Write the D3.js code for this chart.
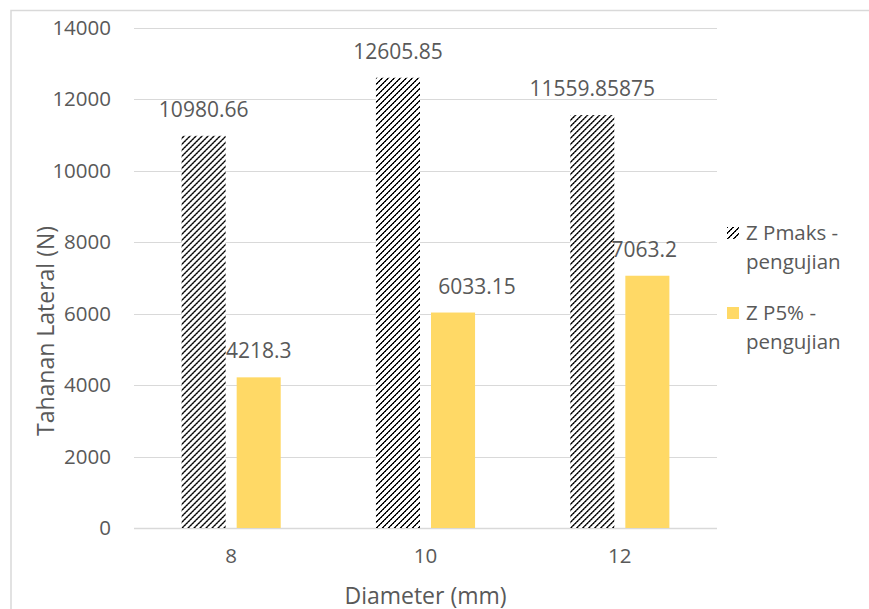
<!DOCTYPE html>
<html><head><meta charset="utf-8">
<script src="https://cdn.jsdelivr.net/npm/d3@7/dist/d3.min.js"></script>
<style>body{margin:0;background:#fff}svg{display:block}text{font-family:"Open Sans",sans-serif;fill:#595959}</style>
</head><body>
<svg id="c" width="869" height="609"></svg>
<script>
const categories = ["8", "10", "12"];
const seriesNames = ["Z Pmaks - pengujian", "Z P5% - pengujian"];
const pmaks = [10980.66, 12605.85, 11559.85875];
const p5 = [4218.3, 6033.15, 7063.2];
const labelsPmaks = ["10980.66", "12605.85", "11559.85875"];
const labelsP5 = ["4218.3", "6033.15", "7063.2"];
const yTicks = [0, 2000, 4000, 6000, 8000, 10000, 12000, 14000];

const svg = d3.select("#c");
const fs = 20.5, fsLab = 21, fsTitle = 23;
const L = 134, R = 717, T = 28, B = 528;
// manual nudges of the P5% data labels, as placed in the original chart
const p5LabelNudge = [0, 24, -3];

// frame
svg.append("rect").attr("x", 11).attr("y", 10.5).attr("width", 900).attr("height", 700)
  .attr("fill", "none").attr("stroke", "#d9d9d9").attr("stroke-width", 1.5);

// pixel diagonal hatch (wide upward diagonal)
const defs = svg.append("defs");
const P = 6;
const pat = defs.append("pattern").attr("id", "hatch").attr("patternUnits", "userSpaceOnUse")
  .attr("width", P).attr("height", P);
pat.append("rect").attr("width", P).attr("height", P).attr("fill", "#fff");
for (let i = 0; i < P; i++) {
  const yy = P - 1 - i;
  const c = i % 2 === 0 ? "#000" : "#505050";
  pat.append("rect").attr("x", i).attr("y", yy).attr("width", 1).attr("height", 1).attr("fill", "#000");
  pat.append("rect").attr("x", (i + 1) % P).attr("y", yy).attr("width", 1).attr("height", 1).attr("fill", c);
}

const y = d3.scaleLinear().domain([0, 14000]).range([B, T]);
const x0 = d3.scaleBand().domain(categories).range([L, R]).paddingInner(0.49).paddingOuter(0.245);
const x1 = d3.scaleBand().domain(seriesNames).range([0, x0.bandwidth()]).paddingInner(0.2);

// gridlines
svg.append("g").selectAll("line").data(yTicks).join("line")
  .attr("x1", L).attr("x2", R).attr("y1", d => Math.round(y(d)) + 0.5).attr("y2", d => Math.round(y(d)) + 0.5)
  .attr("stroke", "#d9d9d9").attr("stroke-width", d => d === 0 ? 1.5 : 1);

// y axis
const yAxis = svg.append("g").attr("transform", `translate(${L},0)`)
  .call(d3.axisLeft(y).tickValues(yTicks).tickFormat(d3.format("d")).tickSize(0).tickPadding(23));
yAxis.select(".domain").remove();
yAxis.selectAll("text").style("font-size", fs + "px").style("font-family", "Open Sans").attr("fill", "#595959");

// x axis
const xAxis = svg.append("g").attr("transform", `translate(0,${B})`)
  .call(d3.axisBottom(x0).tickSize(0).tickPadding(20));
xAxis.select(".domain").remove();
xAxis.selectAll("text").style("font-size", fs + "px").style("font-family", "Open Sans").attr("fill", "#595959");

const data = categories.map((c, i) => ({ c, vals: [
  { s: seriesNames[0], v: pmaks[i], lab: labelsPmaks[i], dx: 0 },
  { s: seriesNames[1], v: p5[i], lab: labelsP5[i], dx: p5LabelNudge[i] }] }));
const fills = { [seriesNames[0]]: "url(#hatch)", [seriesNames[1]]: "#FFD966" };

const g = svg.append("g").selectAll("g").data(data).join("g")
  .attr("transform", d => `translate(${x0(d.c)},0)`);
g.selectAll("rect").data(d => d.vals).join("rect")
  .attr("x", d => x1(d.s)).attr("width", x1.bandwidth())
  .attr("y", d => y(d.v)).attr("height", d => B - y(d.v))
  .attr("fill", d => fills[d.s]);
g.selectAll("text").data(d => d.vals).join("text")
  .attr("x", d => x1(d.s) + x1.bandwidth() / 2 + d.dx).attr("y", d => y(d.v) - 19)
  .attr("text-anchor", "middle").style("font-size", fsLab + "px").text(d => d.lab);

// axis titles
svg.append("text").attr("transform", "translate(54,331) rotate(-90)").attr("text-anchor", "middle")
  .style("font-size", fsTitle + "px").text("Tahanan Lateral (N)");
svg.append("text").attr("x", (L + R) / 2).attr("y", 604).attr("text-anchor", "middle")
  .style("font-size", fsTitle + "px").text("Diameter (mm)");

// legend
const legend = [
  { name: seriesNames[0], lines: ["Z Pmaks -", "pengujian"], y: 227 },
  { name: seriesNames[1], lines: ["Z P5% -", "pengujian"], y: 307 }];
const lg = svg.append("g").selectAll("g").data(legend).join("g");
lg.append("rect").attr("x", 727).attr("y", d => d.y).attr("width", 12).attr("height", 12)
  .attr("fill", d => fills[d.name]);
lg.each(function(d) {
  const t = d3.select(this).append("text").attr("x", 746).attr("y", d.y + 13).style("font-size", fs + "px");
  d.lines.forEach((l, i) => t.append("tspan").attr("x", 746).attr("dy", i === 0 ? 0 : 29).text(l));
});
</script>
</body></html>
